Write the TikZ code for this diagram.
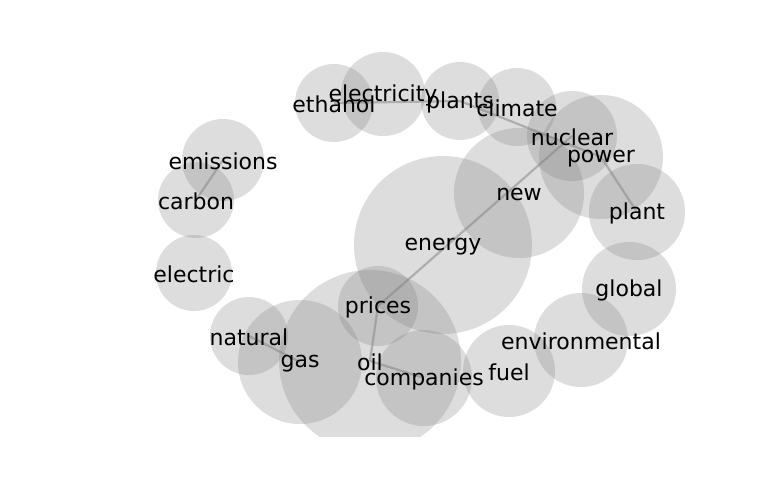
\documentclass[tikz,border=0pt]{standalone}
\usepackage{fontspec}
\setmainfont{DejaVu Sans}
\usepackage{tikz}
\usepackage{xcolor}
\usetikzlibrary{positioning}
\definecolor{bubblegray}{RGB}{128, 128, 128}
\definecolor{edgegray}{RGB}{128, 128, 128}

\begin{document}
\begin{tikzpicture}[
    x=1pt, y=-1pt,
    every node/.style={align=center},
    bubble/.style={circle, fill=bubblegray, fill opacity=0.27, inner sep=0pt, minimum size=2*#1pt},
    word/.style={inner sep=0pt, text=black, yshift=-1.5pt, font=\fontsize{22}{26}\selectfont},
    link/.style={draw=edgegray, opacity=0.5, line width=2.2pt}
]
\useasboundingbox (0,0) rectangle (768,500);

% Bubbles (clipped at the bottom of the plot area)
\begin{scope}
\clip (0,0) rectangle (768,436);
\node[bubble=39] (ethanol) at (334,103) {};
\node[bubble=42] (electricity) at (383,94) {};
\node[bubble=39] (plants) at (460,101) {};
\node[bubble=39] (climate) at (517,107) {};
\node[bubble=45] (nuclear) at (572,136) {};
\node[bubble=62] (power) at (601,157) {};
\node[bubble=65] (new) at (519,193) {};
\node[bubble=89] (energy) at (443,245) {};
\node[bubble=48] (plant) at (637,212) {};
\node[bubble=47] (global) at (629,289) {};
\node[bubble=47] (environmental) at (581,340) {};
\node[bubble=46] (fuel) at (509,371) {};
\node[bubble=41] (emissions) at (223,160) {};
\node[bubble=38] (carbon) at (196,200) {};
\node[bubble=38] (electric) at (194,273) {};
\node[bubble=39] (natural) at (249,336) {};
\node[bubble=62] (gas) at (300,362) {};
\node[bubble=91] (oil) at (370,361) {};
\node[bubble=40] (prices) at (378,306) {};
\node[bubble=48] (companies) at (424,378) {};
\end{scope}

% Connections
\draw[link] (ethanol.center) -- (plants.center);
\draw[link] (plants.center) -- (power.center);
\draw[link] (power.center) -- (plant.center);
\draw[link] (prices.center) -- (nuclear.center);
\draw[link] (prices.center) -- (oil.center);
\draw[link] (oil.center) -- (companies.center);
\draw[link] (natural.center) -- (gas.center);
\draw[link] (carbon.center) -- (emissions.center);

% Labels
\node[word] (ethanol_txt) at (ethanol) {ethanol};
\node[word] (electricity_txt) at (electricity) {electricity};
\node[word] (plants_txt) at (plants) {plants};
\node[word] (climate_txt) at (climate) {climate};
\node[word] (nuclear_txt) at (nuclear) {nuclear};
\node[word] (power_txt) at (power) {power};
\node[word] (new_txt) at (new) {new};
\node[word] (energy_txt) at (energy) {energy};
\node[word] (plant_txt) at (plant) {plant};
\node[word] (global_txt) at (global) {global};
\node[word] (environmental_txt) at (environmental) {environmental};
\node[word] (fuel_txt) at (fuel) {fuel};
\node[word] (emissions_txt) at (emissions) {emissions};
\node[word] (carbon_txt) at (carbon) {carbon};
\node[word] (electric_txt) at (electric) {electric};
\node[word] (natural_txt) at (natural) {natural};
\node[word] (gas_txt) at (gas) {gas};
\node[word] (oil_txt) at (oil) {oil};
\node[word] (prices_txt) at (prices) {prices};
\node[word] (companies_txt) at (companies) {companies};

\end{tikzpicture}
\end{document}
